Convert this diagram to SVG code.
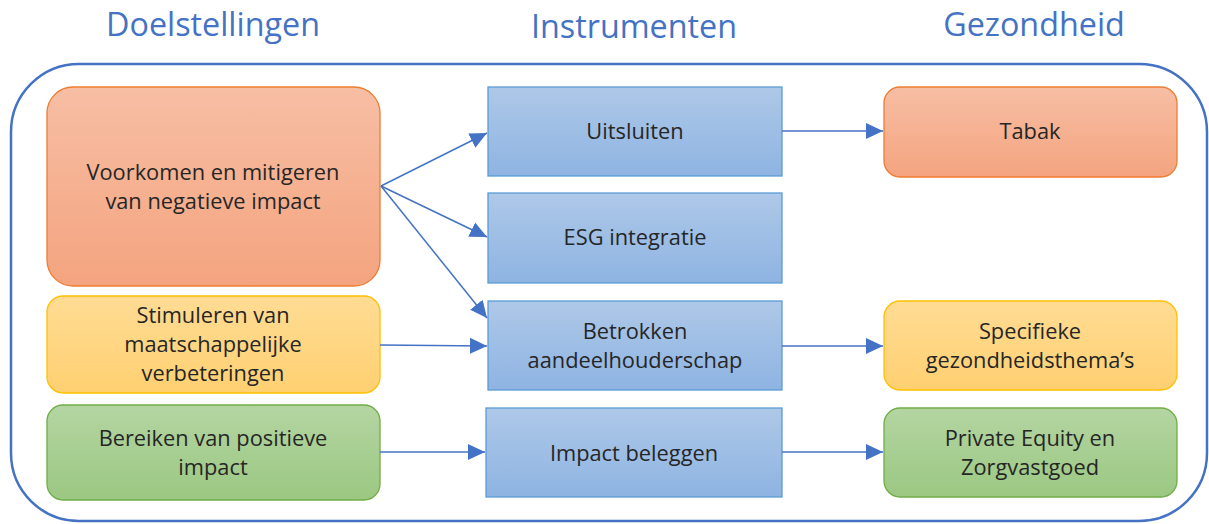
<svg xmlns="http://www.w3.org/2000/svg" width="1209" height="524" viewBox="0 0 1209 524">
<defs>
<linearGradient id="gO" x1="0" y1="0" x2="0" y2="1"><stop offset="0" stop-color="#F7BEA4"/><stop offset="1" stop-color="#F4A47F"/></linearGradient>
<linearGradient id="gY" x1="0" y1="0" x2="0" y2="1"><stop offset="0" stop-color="#FFDC94"/><stop offset="1" stop-color="#FFD071"/></linearGradient>
<linearGradient id="gG" x1="0" y1="0" x2="0" y2="1"><stop offset="0" stop-color="#B4D5A2"/><stop offset="1" stop-color="#9BC882"/></linearGradient>
<linearGradient id="gB" x1="0" y1="0" x2="0" y2="1"><stop offset="0" stop-color="#AEC8E8"/><stop offset="1" stop-color="#8EB4E2"/></linearGradient>
<marker id="ah" markerUnits="userSpaceOnUse" markerWidth="18" markerHeight="18" refX="17" refY="8" orient="auto" viewBox="0 0 18 16">
<path d="M0,0 L17,8 L0,16 z" fill="#4472C4"/>
</marker>
</defs>
<style>
.t{font-family:"Open Sans","Noto Sans",sans-serif;font-size:21.8px;fill:#262626;text-anchor:middle}
.h{font-family:"Open Sans","Noto Sans",sans-serif;font-size:32.3px;fill:#4472C4;text-anchor:middle}
.o{fill:url(#gO);stroke:#ED7D31;stroke-width:1.3}
.y{fill:url(#gY);stroke:#FFC000;stroke-width:1.3}
.g{fill:url(#gG);stroke:#70AD47;stroke-width:1.3}
.b{fill:url(#gB);stroke:#5B9BD5;stroke-width:1.3}
.c{fill:none;stroke:#4472C4;stroke-width:1.5;marker-end:url(#ah)}
</style>
<rect width="1209" height="524" fill="#FFFFFF"/>
<g id="titles">
<text class="h" x="213" y="36">Doelstellingen</text>
<text class="h" x="634" y="38">Instrumenten</text>
<text class="h" x="1034" y="36">Gezondheid</text>
</g>
<g id="container">
<rect x="11" y="64" width="1196" height="457" rx="68" ry="68" fill="none" stroke="#4472C4" stroke-width="2.5"/>
</g>
<g id="n-voorkomen">
<rect class="o" x="47" y="87" width="333" height="199" rx="26" ry="26"/>
<text class="t" x="213" y="180">Voorkomen en mitigeren</text>
<text class="t" x="213" y="209">van negatieve impact</text>
</g>
<g id="n-stimuleren">
<rect class="y" x="47" y="296" width="333" height="97" rx="16" ry="16"/>
<text class="t" x="213" y="323">Stimuleren van</text>
<text class="t" x="213" y="352">maatschappelijke</text>
<text class="t" x="213" y="381">verbeteringen</text>
</g>
<g id="n-bereiken">
<rect class="g" x="47" y="405" width="333" height="95" rx="16" ry="16"/>
<text class="t" x="213" y="446">Bereiken van positieve</text>
<text class="t" x="213" y="475">impact</text>
</g>
<g id="n-uitsluiten">
<rect class="b" x="488" y="87" width="294" height="89"/>
<text class="t" x="635" y="139">Uitsluiten</text>
</g>
<g id="n-esg">
<rect class="b" x="488" y="193" width="294" height="90"/>
<text class="t" x="635" y="245">ESG integratie</text>
</g>
<g id="n-betrokken">
<rect class="b" x="488" y="301" width="294" height="89"/>
<text class="t" x="635" y="339">Betrokken</text>
<text class="t" x="635" y="368">aandeelhouderschap</text>
</g>
<g id="n-impact">
<rect class="b" x="486" y="408" width="296" height="89"/>
<text class="t" x="634" y="461">Impact beleggen</text>
</g>
<g id="n-tabak">
<rect class="o" x="884" y="87" width="293" height="90" rx="16" ry="16"/>
<text class="t" x="1030" y="139">Tabak</text>
</g>
<g id="n-specifieke">
<rect class="y" x="884" y="301" width="293" height="89" rx="16" ry="16"/>
<text class="t" x="1030" y="339">Specifieke</text>
<text class="t" x="1030" y="368">gezondheidsthema’s</text>
</g>
<g id="n-private">
<rect class="g" x="884" y="408" width="293" height="89" rx="16" ry="16"/>
<text class="t" x="1030" y="446">Private Equity en</text>
<text class="t" x="1030" y="475">Zorgvastgoed</text>
</g>
<g id="connectors">
<path class="c" d="M381,186 L487,133"/>
<path class="c" d="M381,186 L487,237"/>
<path class="c" d="M381,186 L487,318"/>
<path class="c" d="M380,345 L487,346"/>
<path class="c" d="M380,452 L485,452"/>
<path class="c" d="M782,131 L883,131"/>
<path class="c" d="M782,346 L883,346"/>
<path class="c" d="M782,452 L883,452"/>
</g>
</svg>
